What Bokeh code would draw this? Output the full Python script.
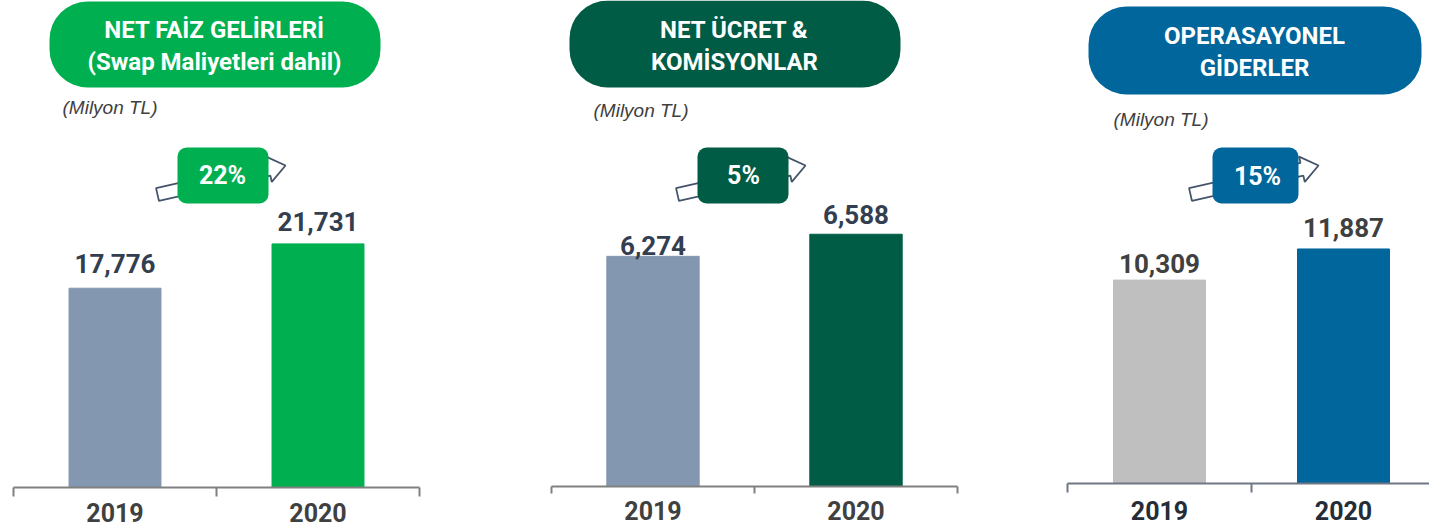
from bokeh.plotting import figure
from bokeh.layouts import row
from bokeh.models import BoxAnnotation, Label, ColumnDataSource, Range1d
from bokeh.core.properties import value
from bokeh.embed import file_html
from bokeh.resources import INLINE
import numpy as np

# ---------------- data ----------------
years = ["2019", "2020"]
net_faiz_values = [17776, 21731]
net_ucret_values = [6274, 6588]
opex_values = [10309, 11887]
growth_labels = ["22%", "5%", "15%"]
title_lines = [
    ["NET FAİZ GELİRLERİ", "(Swap Maliyetleri dahil)"],
    ["NET ÜCRET &", "KOMİSYONLAR"],
    ["OPERASAYONEL", "GİDERLER"],
]
unit_label = "(Milyon TL)"
axis_minimums = [0, 3000, 0]
series = [net_faiz_values, net_ucret_values, opex_values]

# ---------------- styles / layout ----------------
BOLD = "Roboto"
REG = "Liberation Sans"
PAGE_TOP, PAGE_BOTTOM = 0, 529
FIG_H = PAGE_BOTTOM - PAGE_TOP
TEXT_FIX = 10  # renderer places alphabetic baseline lower than requested

panels = [
    dict(fig_left=0, fig_right=540, axis_left=13, cat_px=203, base_px=487, k=0.01121, bar_w=0.453,
         colors=["#8497b0", "#00b050"], accent="#00b050",
         box=(49, 380, 1, 87), title_y=(29, 61), title_cx=214,
         unit_xy=(62, 107), badge=(177, 268, 147, 203), badge_txt=(222, 175),
         arrow=((157, 194), (285, 165)), gaps=[15, 12], year_base=522,
         value_color="#333f50", year_color="#404040", axis_color="#808080", tick=9),
    dict(fig_left=540, fig_right=1040, axis_left=551, cat_px=203, base_px=486, k=0.0703, bar_w=0.455,
         colors=["#8497b0", "#005c45"], accent="#005c45",
         box=(569, 900, 0, 87), title_y=(29, 61), title_cx=734,
         unit_xy=(593, 110), badge=(697, 788, 147, 203), badge_txt=(743, 175),
         arrow=((677, 194), (805, 165)), gaps=[1, 10], year_base=520,
         value_color="#333f50", year_color="#404040", axis_color="#808080", tick=7),
    dict(fig_left=1040, fig_right=1429, axis_left=1067, cat_px=184, base_px=483, k=0.01973, bar_w=0.5,
         colors=["#bfbfbf", "#00669c"], accent="#00669c",
         box=(1088, 1421, 6, 94), title_y=(35, 67), title_cx=1254,
         unit_xy=(1113, 119), badge=(1212, 1298, 147, 203), badge_txt=(1257, 176),
         arrow=((1190, 194), (1318, 165)), gaps=[7, 11], year_base=520,
         value_color="#404040", year_color="#242c38", axis_color="#6f7784", tick=9),
]


def arrow_polygon(tail, tip, shaft_hw=6.5, head_hw=13, head_len=17):
    tx, ty = tail
    px, py = tip
    L = np.hypot(px - tx, py - ty)
    ux, uy = (px - tx) / L, (py - ty) / L
    nx, ny = -uy, ux
    bx, by = px - head_len * ux, py - head_len * uy
    return [
        (tx + shaft_hw * nx, ty + shaft_hw * ny),
        (bx + shaft_hw * nx, by + shaft_hw * ny),
        (bx + head_hw * nx, by + head_hw * ny),
        (px, py),
        (bx - head_hw * nx, by - head_hw * ny),
        (bx - shaft_hw * nx, by - shaft_hw * ny),
        (tx - shaft_hw * nx, ty - shaft_hw * ny),
    ]


figs = []
for i, cfg in enumerate(panels):
    vals = series[i]
    base = axis_minimums[i]

    def xd(px, cfg=cfg):
        return (px - cfg["axis_left"]) / cfg["cat_px"]

    def yd(py, cfg=cfg, base=base):
        return base + (cfg["base_px"] - py) / cfg["k"]

    width = cfg["fig_right"] - cfg["fig_left"]
    p = figure(width=width, height=FIG_H,
               x_range=Range1d(xd(cfg["fig_left"]), xd(cfg["fig_right"])),
               y_range=Range1d(yd(PAGE_BOTTOM), yd(PAGE_TOP)),
               output_backend="svg", toolbar_location=None,
               x_axis_location=None, y_axis_location=None,
               min_border=0, outline_line_color=None,
               background_fill_color="white", border_fill_color="white")
    p.grid.visible = False

    centers = np.arange(len(years)) + 0.5
    src = ColumnDataSource(dict(
        x=centers, top=vals, bottom=[base] * len(vals), color=cfg["colors"],
        label=[f"{v:,}" for v in vals], off=[-(g + TEXT_FIX) for g in cfg["gaps"]], year=years,
        year_y=[yd(cfg["year_base"] - TEXT_FIX)] * len(years),
    ))

    # bars
    p.vbar(x="x", top="top", bottom="bottom", width=cfg["bar_w"], color="color", source=src)

    # axis baseline and boundary ticks
    bounds = np.arange(len(years) + 1)
    p.segment(x0=[bounds[0]], y0=[base], x1=[bounds[-1]], y1=[base],
              line_color=cfg["axis_color"], line_width=2)
    p.segment(x0=bounds, y0=[base] * len(bounds), x1=bounds,
              y1=[yd(cfg["base_px"] + cfg["tick"])] * len(bounds),
              line_color=cfg["axis_color"], line_width=2)

    # value labels
    p.text(x="x", y="top", text="label", y_offset="off", source=src,
           text_align="center", text_baseline="alphabetic",
           text_font=value(BOLD), text_font_style="bold", text_font_size="26px",
           text_color=cfg["value_color"])

    # year labels (category labels)
    p.text(x="x", y="year_y", text="year", source=src,
           text_align="center", text_baseline="alphabetic",
           text_font=value(BOLD), text_font_style="bold", text_font_size="25px",
           text_color=cfg["year_color"])

    # growth arrow
    pts = arrow_polygon(*cfg["arrow"])
    p.patch([xd(a) for a, b in pts], [yd(b) for a, b in pts],
            fill_color="white", line_color="#44546a", line_width=1.8)

    # badge
    bl, br, bt, bb = cfg["badge"]
    p.add_layout(BoxAnnotation(left=xd(bl), right=xd(br), top=yd(bt), bottom=yd(bb),
                               fill_color=cfg["accent"], fill_alpha=1, line_color=None,
                               border_radius=9))
    p.add_layout(Label(x=xd(cfg["badge_txt"][0]), y=yd(cfg["badge_txt"][1]), text=growth_labels[i],
                       text_align="center", text_baseline="middle", text_color="white",
                       text_font=BOLD, text_font_style="bold", text_font_size="25px"))

    # title box
    tl, tr, tt, tb = cfg["box"]
    p.add_layout(BoxAnnotation(left=xd(tl), right=xd(tr), top=yd(tt), bottom=yd(tb),
                               fill_color=cfg["accent"], fill_alpha=1, line_color=None,
                               border_radius=38))
    for line, ty in zip(title_lines[i], cfg["title_y"]):
        p.add_layout(Label(x=xd(cfg["title_cx"]), y=yd(ty), text=line,
                           text_align="center", text_baseline="middle", text_color="white",
                           text_font=BOLD, text_font_style="bold", text_font_size="24px"))

    # unit label
    ux, uy = cfg["unit_xy"]
    p.add_layout(Label(x=xd(ux), y=yd(uy), text=unit_label, text_align="left",
                       text_baseline="middle", text_color="#404040",
                       text_font=REG, text_font_style="italic", text_font_size="19px"))

    figs.append(p)

layout = row(figs, spacing=0)
open("out.html", "w").write(file_html(layout, INLINE))
